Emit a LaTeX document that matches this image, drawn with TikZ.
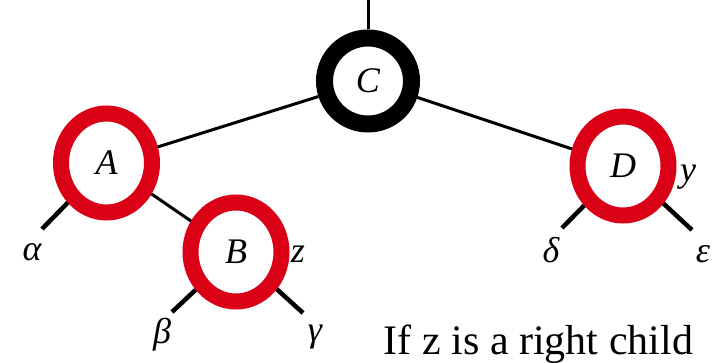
\documentclass[tikz,border=0pt]{standalone}
\usepackage{fontspec}
\setmainfont{Liberation Serif}
\usepackage{xcolor}
\usetikzlibrary{shapes.geometric}

\definecolor{rbred}{RGB}{218,0,22}

\begin{document}
\begin{tikzpicture}[x=1pt, y=-1pt,
  rn/.style={ellipse,draw=rbred,line width=16pt,fill=white,minimum width=91pt,minimum height=99pt,inner sep=0pt,font=\fontsize{36}{36}\selectfont\itshape},
  bn/.style={ellipse,draw=black,line width=17pt,fill=white,minimum width=87pt,minimum height=86pt,inner sep=0pt,font=\fontsize{36}{36}\selectfont\itshape},
  lb/.style={inner sep=0pt,font=\fontsize{36}{36}\selectfont\itshape},
  ed/.style={line width=3pt},
  lf/.style={line width=4.5pt}]
  \useasboundingbox (0,0) rectangle (717,363);
  % tree nodes
  \node[bn] (C) at (368,81) {C};
  \node[rn] (A) at (106.5,163) {A};
  \node[rn] (B) at (236,252) {B};
  \node[rn] (D) at (623,166) {D};
  \coordinate (top) at (368,0);
  % free ends of the subtrees
  \foreach \n/\x/\y in {ea/42/229, eb/172/312, ec/303/313, ed/562/228, ee/692/230} {
    \coordinate (\n) at (\x,\y);
  }
  \draw[ed] (C) -- (top);
  \draw[ed] (C) -- (A);
  \draw[ed] (C) -- (D);
  \draw[ed] (A) -- (B);
  \foreach \p/\q in {A/ea, B/eb, B/ec, D/ed, D/ee} { \draw[lf] (\p) -- (\q); }
  % subtree and pointer labels
  \node[lb] (alpha) at (32,252) {α};
  \node[lb] (beta) at (162,335) {β};
  \node[lb] (gamma) at (315,337) {γ};
  \node[lb] (delta) at (551,250) {δ};
  \node[lb] (eps) at (703,254) {ε};
  \node[lb] (z) at (298,254) {z};
  \node[lb] (y) at (688,177) {y};
  \node[anchor=base,inner sep=0pt,font=\fontsize{42}{42}\selectfont] (case) at (538.5,354) {If z is a right child};
\end{tikzpicture}
\end{document}
